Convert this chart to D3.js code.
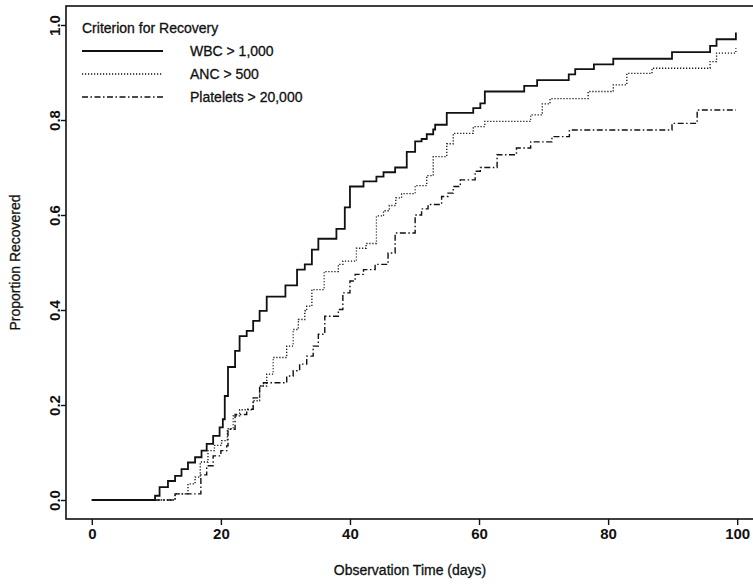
<!DOCTYPE html>
<html>
<head>
<meta charset="utf-8">
<script src="https://cdn.jsdelivr.net/npm/d3@7"></script>
<style>
  body { margin: 0; background: #fff; }
  svg text { font-family: "Liberation Sans", Arial, Helvetica, sans-serif; fill: #111; }
</style>
</head>
<body>
<svg id="chart" width="753" height="585"></svg>
<script>
// step points [day, proportion recovered]; each pair is the value after that step
const wbc = [[0,0],[9.8,0.009],[10.5,0.027],[11.8,0.04],[12.9,0.051],[13.9,0.065],[14.9,0.079],[16,0.09],[17,0.104],[17.8,0.118],[18.8,0.135],[19.8,0.153],[20.3,0.17],[20.6,0.219],[21.1,0.28],[22.2,0.314],[22.9,0.345],[24,0.356],[25,0.377],[26,0.398],[27.1,0.428],[30,0.452],[31.8,0.485],[33,0.496],[34.1,0.527],[35.1,0.55],[37.9,0.571],[39.2,0.616],[40,0.66],[42.1,0.671],[44.1,0.681],[45.2,0.69],[47,0.70],[48.8,0.733],[50.1,0.755],[51.1,0.76],[51.9,0.77],[52.9,0.78],[53.2,0.79],[55,0.815],[59.1,0.825],[60.2,0.835],[60.9,0.86],[67,0.872],[69,0.884],[73.9,0.896],[74.9,0.907],[77.8,0.917],[80.8,0.929],[89.9,0.943],[95.8,0.956],[96.8,0.97],[99.8,0.984]];
const anc = [[0,0],[12.9,0.013],[14.9,0.034],[16,0.048],[16.8,0.08],[18,0.104],[19,0.115],[20.1,0.125],[21,0.15],[21.9,0.177],[22.9,0.19],[25,0.209],[26,0.24],[27.1,0.265],[28.1,0.30],[30.2,0.324],[31.2,0.359],[32,0.38],[33,0.398],[33.3,0.408],[34.1,0.443],[36,0.481],[38.2,0.496],[38.9,0.503],[41,0.53],[42.5,0.54],[44.1,0.598],[45.2,0.609],[46.1,0.62],[47.1,0.636],[48,0.645],[50.1,0.662],[51.9,0.683],[52.9,0.723],[55,0.75],[56,0.772],[59.1,0.786],[60.9,0.797],[68,0.811],[69.8,0.834],[71,0.845],[76.9,0.86],[80.8,0.874],[82.9,0.898],[86.8,0.909],[95.8,0.923],[96.8,0.941],[99.8,0.951]];
const platelets = [[0,0],[12.9,0.013],[16.9,0.053],[17.8,0.072],[18.8,0.093],[20,0.104],[20.9,0.114],[21.1,0.149],[22.2,0.18],[24,0.191],[25,0.215],[26,0.24],[26.6,0.247],[30.2,0.261],[31.2,0.272],[32.2,0.286],[33.3,0.303],[34.3,0.324],[35.1,0.349],[36.1,0.387],[38.2,0.401],[38.9,0.436],[40,0.461],[40.8,0.475],[42.1,0.485],[43.9,0.496],[45.9,0.52],[47,0.562],[50.1,0.60],[51.1,0.613],[52.1,0.622],[54.2,0.639],[55.2,0.646],[56,0.66],[57.1,0.674],[59.4,0.692],[60.2,0.70],[62.8,0.727],[65.8,0.741],[68,0.754],[71.3,0.765],[74,0.779],[89.9,0.793],[93.8,0.821],[99.8,0.821]];

const seriesNames = ["WBC > 1,000", "ANC > 500", "Platelets > 20,000"];
const legendTitle = "Criterion for Recovery";
const xTicks = [0, 20, 40, 60, 80, 100];
const yTicks = [0, 0.2, 0.4, 0.6, 0.8, 1.0];

const svg = d3.select("#chart");

// plot frame (S-style 4% padding on each axis)
const frame = { left: 66, top: 6, right: 763, bottom: 519 };

const x = d3.scaleLinear().domain([-4, 104]).range([frame.left, frame.right]);
const y = d3.scaleLinear().domain([-0.04, 1.04]).range([frame.bottom, frame.top]);

const styles = [
  { width: 1.8, dash: null },
  { width: 1.3, dash: "1.2,1.8" },
  { width: 1.4, dash: "6,2.5,1.5,2.5" }
];

// frame box
svg.append("rect")
  .attr("x", frame.left).attr("y", frame.top)
  .attr("width", frame.right - frame.left).attr("height", frame.bottom - frame.top)
  .attr("fill", "none").attr("stroke", "#111").attr("stroke-width", 1.6);

// x axis
const xAxis = svg.append("g")
  .attr("transform", "translate(0," + frame.bottom + ")")
  .call(d3.axisBottom(x).tickValues(xTicks).tickSize(6).tickPadding(3).tickFormat(d3.format("d")));
xAxis.select(".domain").remove();
xAxis.selectAll("line").attr("stroke", "#111").attr("stroke-width", 1.4);
xAxis.selectAll("text").attr("font-size", 15).attr("font-weight", "bold").attr("fill", "#111");

// y axis, labels rotated like the original
const yAxis = svg.append("g")
  .attr("transform", "translate(" + frame.left + ",0)")
  .call(d3.axisLeft(y).tickValues(yTicks).tickSize(5).tickFormat(d3.format(".1f")));
yAxis.select(".domain").remove();
yAxis.selectAll("line").attr("stroke", "#111").attr("stroke-width", 1.4);
yAxis.selectAll("text")
  .attr("font-size", 15).attr("font-weight", "bold").attr("fill", "#111")
  .attr("x", null).attr("dy", null)
  .attr("text-anchor", "middle")
  .attr("transform", "translate(-6,0) rotate(-90)");

// axis titles
svg.append("text")
  .attr("x", 410).attr("y", 575)
  .attr("text-anchor", "middle").attr("font-size", 14)
  .attr("stroke", "#111").attr("stroke-width", 0.3)
  .text("Observation Time (days)");

svg.append("text")
  .attr("transform", "translate(20," + y(0.5) + ") rotate(-90)")
  .attr("text-anchor", "middle").attr("font-size", 14)
  .attr("stroke", "#111").attr("stroke-width", 0.3)
  .text("Proportion Recovered");

// step curves
const line = d3.line()
  .x(d => x(d[0]))
  .y(d => y(d[1]))
  .curve(d3.curveStepAfter);

[wbc, anc, platelets].forEach((data, i) => {
  svg.append("path")
    .attr("d", line(data))
    .attr("fill", "none")
    .attr("stroke", "#111")
    .attr("stroke-width", styles[i].width)
    .attr("stroke-dasharray", styles[i].dash);
});

// legend
const legend = svg.append("g");
legend.append("text")
  .attr("x", 82).attr("y", 33)
  .attr("font-size", 14)
  .attr("stroke", "#111").attr("stroke-width", 0.3)
  .text(legendTitle);

seriesNames.forEach((name, i) => {
  const ly = 51 + i * 23;
  legend.append("line")
    .attr("x1", 82).attr("x2", 163)
    .attr("y1", ly).attr("y2", ly)
    .attr("stroke", "#111")
    .attr("stroke-width", styles[i].width)
    .attr("stroke-dasharray", styles[i].dash);
  legend.append("text")
    .attr("x", 190).attr("y", ly + 5)
    .attr("font-size", 14)
    .attr("stroke", "#111").attr("stroke-width", 0.3)
    .text(name);
});
</script>
</body>
</html>
